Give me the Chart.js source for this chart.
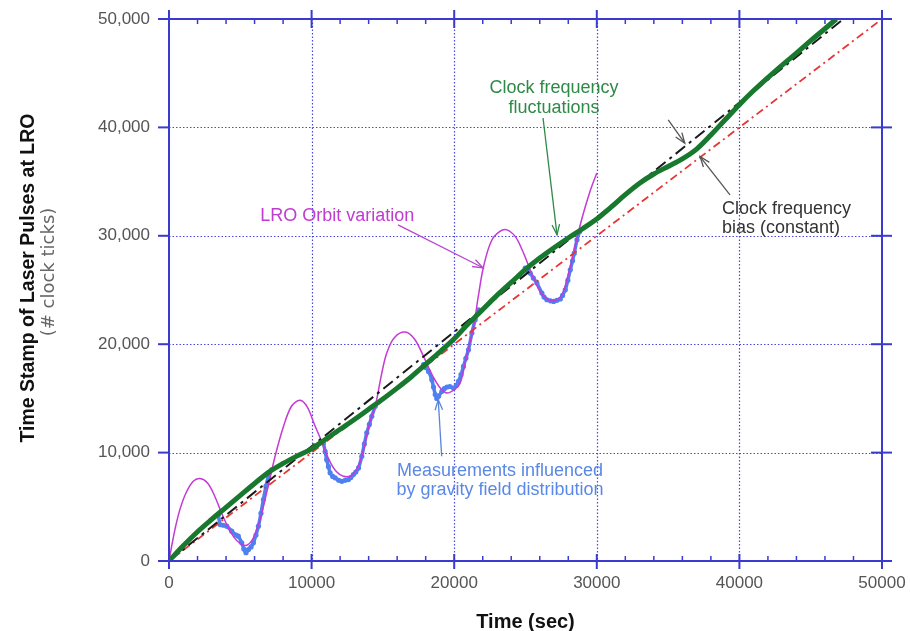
<!DOCTYPE html>
<html>
<head>
<meta charset="utf-8">
<script src="https://cdn.jsdelivr.net/npm/chart.js@4/dist/chart.umd.min.js"></script>
<style>
  body { margin: 0; background: #fff; }
  canvas { display: block; }
</style>
</head>
<body>
<canvas id="grafico" width="910" height="631"></canvas>
<script>
// tick values
const xTicks = [0, 10000, 20000, 30000, 40000, 50000];
const yTicks = [0, 10000, 20000, 30000, 40000, 50000];

// clock frequency bias (constant) - straight dash-dot lines
const biasX = [0, 47300];
const biasY = [0, 50000];
const refX = [0, 50000];
const refY = [0, 50000];

// clock frequency fluctuations (green)
const fluctX = [0, 1000, 2000, 3000, 4000, 5000, 6000, 7000, 8000, 9000, 10000, 11000, 12000, 13000, 14000, 15000,
  16000, 17000, 18000, 19000, 20000, 21000, 22000, 23000, 24000, 25000, 26000, 27000, 28000, 29000, 30000, 31000,
  32000, 33000, 34000, 35000, 36000, 37000, 38000, 39000, 40000, 41000, 42000, 43000, 44000, 45000, 46000, 46800];
const fluctY = [0, 1400, 2700, 3850, 4950, 6050, 7150, 8200, 9000, 9700, 10350, 11250, 12150, 13050, 14000, 14950,
  15950, 17000, 18150, 19300, 20500, 21900, 23200, 24500, 25700, 26900, 27950, 28900, 29800, 30650, 31550, 32650,
  33800, 34850, 35700, 36400, 37100, 38000, 39300, 40700, 42100, 43400, 44600, 45750, 46850, 48000, 49100, 50000];

// LRO orbit variation (magenta)
const orbitX = [0, 250, 500, 800, 1200, 1700, 2175, 2700, 3200, 3600, 4000, 4500, 5000, 5450, 5900, 6400, 6900, 7440,
  8000, 8600, 9190, 9700, 10200, 10700, 11200, 11700, 12230, 12800, 13300, 13700, 14100, 14460, 14900, 15270, 15800,
  16560, 17200, 17850, 18400, 19020, 19490, 20000, 20420, 20800, 21360, 21700, 22060, 22600, 23200, 23700, 24300,
  24800, 25100, 25600, 26100, 26600, 27000, 27500, 28000, 28500, 29000, 29500, 30000];
const orbitY = [0, 1800, 3400, 4900, 6300, 7350, 7600, 7200, 6000, 4700, 3500, 2300, 1600, 1450, 2100, 3900, 6600, 9660,
  12300, 14300, 14820, 14200, 12600, 11050, 9400, 8300, 7820, 7900, 8800, 10600, 12900, 14270, 17200, 19190, 20600,
  21120, 20500, 18880, 17300, 15960, 15500, 15800, 16420, 18500, 21640, 24500, 27170, 29500, 30400, 30550, 29900,
  28600, 27630, 26000, 24700, 24100, 24000, 24400, 26400, 29200, 31800, 34000, 35800];

// measurements influenced by gravity field (blue), null = gap between passes
const measX = [3460, 3580, 3800, 4050, 4400, 4700, 4860, 5100, 5250, 5400, 5570, 5750, 5920, 6100, 6270, 6450, 6620, 6800, 6970, 7200,
  9000,
  10830, 10950, 11060, 11180, 11300, 11480, 11650, 11900, 12120, 12350, 12580, 12750, 12930, 13100, 13290, 13520, 13700, 13870, 14050, 14220, 14460,
  16000,
  17850, 18000, 18200, 18430, 18550, 18670, 18780, 18900, 19140, 19300, 19490, 19700, 19950, 20150, 20300, 20480, 20650, 20820, 21000, 21240, 21470, 21710,
  23000,
  24980, 25150, 25330, 25550, 25800, 26150, 26300, 26500, 26750, 26970, 27200, 27440, 27600, 27790, 27970, 28140, 28300, 28420, 28610, 28800];
const measY = [4290, 3360, 3300, 3210, 2750, 2400, 2290, 1680, 1100, 760, 1060, 1300, 1680, 2400, 3210, 4400, 5670, 6900, 7820, 8430,
  null,
  10890, 10100, 9350, 8700, 8130, 7800, 7670, 7450, 7350, 7450, 7510, 7700, 7970, 8200, 8590, 9660, 10800, 11820, 12600, 13350, 14270,
  null,
  18110, 17850, 17490, 16730, 16050, 15350, 15000, 15190, 15650, 15900, 16050, 16100, 15960, 16200, 16570, 17200, 17950, 18700, 19490, 21030, 22260, 23180,
  null,
  27020, 26800, 26560, 26100, 25640, 24720, 24350, 24100, 24000, 23950, 24050, 24170, 24500, 25020, 25900, 26870, 27700, 28400, 29630, 30400];

const pts = (xs, ys) => xs.map((x, i) => ({ x: x, y: ys[i] }));

const FONT = '"Liberation Sans", Arial, sans-serif';
const AXIS = '#3a3ad0';

// annotations in data coordinates
const notes = [
  { lines: ['LRO Orbit variation'], x: 11800, y: [31320], color: '#c03cd0', align: 'center' },
  { lines: ['Clock frequency', 'fluctuations'], x: 27000, y: [43210, 41360], color: '#2f8a48', align: 'center' },
  { lines: ['Clock frequency', 'bias (constant)'], x: 38780, y: [32030, 30250], color: '#333333', align: 'left' },
  { lines: ['Measurements influenced', 'by gravity field distribution'], x: 23210, y: [7820, 6130], color: '#5a88e6', align: 'center' }
];
const arrows = [
  { from: [16060, 31010], to: [22020, 27050], color: '#b848cc' },
  { from: [26230, 40870], to: [27210, 30090], color: '#2f8a48' },
  { from: [35010, 40690], to: [36170, 38540], color: '#555555' },
  { from: [39340, 33780], to: [37240, 37310], color: '#555555' },
  { from: [19120, 9660], to: [18880, 14880], color: '#5a85d8' }
];

const framePlugin = {
  id: 'frame',
  beforeDatasetsDraw(chart) {
    const { ctx, chartArea: a, scales: { x, y } } = chart;
    ctx.save();
    ctx.strokeStyle = '#4848e0';
    ctx.lineWidth = 1.2;
    ctx.setLineDash([1.5, 2]);
    xTicks.slice(1, -1).forEach(v => {
      const px = Math.round(x.getPixelForValue(v)) + 0.5;
      ctx.beginPath(); ctx.moveTo(px, a.top); ctx.lineTo(px, a.bottom); ctx.stroke();
    });
    yTicks.slice(1, -1).forEach(v => {
      const py = Math.round(y.getPixelForValue(v)) + 0.5;
      ctx.beginPath(); ctx.moveTo(a.left, py); ctx.lineTo(a.right, py); ctx.stroke();
    });
    ctx.restore();
  },
  afterDatasetsDraw(chart) {
    const { ctx, chartArea: a, scales: { x, y } } = chart;
    ctx.save();
    ctx.strokeStyle = AXIS;
    ctx.lineWidth = 2;
    ctx.strokeRect(a.left, a.top, a.right - a.left, a.bottom - a.top);
    ctx.lineWidth = 1.5;
    // minor ticks on x every 2000, pointing inside
    for (let v = 2000; v < 50000; v += 2000) {
      if (v % 10000 === 0) continue;
      const px = x.getPixelForValue(v);
      ctx.beginPath(); ctx.moveTo(px, a.bottom); ctx.lineTo(px, a.bottom - 5); ctx.stroke();
      ctx.beginPath(); ctx.moveTo(px, a.top); ctx.lineTo(px, a.top + 5); ctx.stroke();
    }
    // major ticks
    ctx.lineWidth = 2;
    xTicks.forEach(v => {
      const px = x.getPixelForValue(v);
      ctx.beginPath(); ctx.moveTo(px, a.bottom - 7); ctx.lineTo(px, a.bottom + 8); ctx.stroke();
      ctx.beginPath(); ctx.moveTo(px, a.top - 9); ctx.lineTo(px, a.top + 9); ctx.stroke();
    });
    yTicks.forEach(v => {
      const py = y.getPixelForValue(v);
      ctx.beginPath(); ctx.moveTo(a.left - 11, py); ctx.lineTo(a.left, py); ctx.stroke();
      ctx.beginPath(); ctx.moveTo(a.right - 11, py); ctx.lineTo(a.right + 10, py); ctx.stroke();
    });
    ctx.restore();
  },
  afterDraw(chart) {
    const { ctx, chartArea: a, scales: { x, y } } = chart;
    ctx.save();
    // axis titles
    ctx.fillStyle = '#111';
    ctx.textAlign = 'center';
    ctx.textBaseline = 'alphabetic';
    ctx.font = 'bold 20px ' + FONT;
    ctx.fillText('Time (sec)', (a.left + a.right) / 2, 628);
    ctx.save();
    ctx.translate(34, 278);
    ctx.rotate(-Math.PI / 2);
    ctx.font = 'bold 19.5px ' + FONT;
    ctx.fillText('Time Stamp of Laser Pulses at LRO', 0, 0);
    ctx.restore();
    ctx.save();
    ctx.translate(54, 272);
    ctx.rotate(-Math.PI / 2);
    ctx.fillStyle = '#666';
    ctx.font = '18px "DejaVu Sans", sans-serif';
    ctx.fillText('(# clock ticks)', 0, 0);
    ctx.restore();

    // text notes
    ctx.font = '18px ' + FONT;
    notes.forEach(n => {
      ctx.fillStyle = n.color;
      ctx.textAlign = n.align;
      n.lines.forEach((t, i) => ctx.fillText(t, x.getPixelForValue(n.x), y.getPixelForValue(n.y[i])));
    });

    // arrows
    ctx.lineWidth = 1.3;
    arrows.forEach(ar => {
      const x1 = x.getPixelForValue(ar.from[0]), y1 = y.getPixelForValue(ar.from[1]);
      const x2 = x.getPixelForValue(ar.to[0]), y2 = y.getPixelForValue(ar.to[1]);
      const ang = Math.atan2(y2 - y1, x2 - x1);
      ctx.strokeStyle = ar.color;
      ctx.beginPath(); ctx.moveTo(x1, y1); ctx.lineTo(x2, y2); ctx.stroke();
      ctx.beginPath();
      ctx.moveTo(x2 - 11 * Math.cos(ang - 0.35), y2 - 11 * Math.sin(ang - 0.35));
      ctx.lineTo(x2, y2);
      ctx.lineTo(x2 - 11 * Math.cos(ang + 0.35), y2 - 11 * Math.sin(ang + 0.35));
      ctx.stroke();
    });
    ctx.restore();
  }
};

new Chart(document.getElementById('grafico'), {
  type: 'scatter',
  data: {
    datasets: [
      { label: 'Clock frequency fluctuations', data: pts(fluctX, fluctY), showLine: true, borderColor: '#17782e', borderWidth: 5, pointRadius: 0, cubicInterpolationMode: 'monotone' },
      { label: 'Clock frequency bias', data: pts(biasX, biasY), showLine: true, borderColor: '#1a1a1a', borderWidth: 2, borderDash: [12, 5, 3, 5], pointRadius: 0 },
      { label: 'Reference', data: pts(refX, refY), showLine: true, borderColor: '#e83535', borderWidth: 1.8, borderDash: [8, 4, 2, 4], pointRadius: 0 },
      { label: 'LRO Orbit variation', data: pts(orbitX, orbitY), showLine: true, borderColor: '#c43ad4', borderWidth: 1.5, pointRadius: 0, tension: 0.35 },
      { label: 'Measurements', data: pts(measX, measY), showLine: true, spanGaps: false, borderColor: '#4f80f0', borderWidth: 3.5, pointRadius: 2.6, pointBackgroundColor: '#4f80f0', pointBorderWidth: 0, tension: 0.2 }
    ]
  },
  options: {
    responsive: false,
    animation: false,
    layout: { autoPadding: false, padding: { top: 19, right: 28, left: 0, bottom: 0 } },
    plugins: { legend: { display: false }, tooltip: { enabled: false } },
    scales: {
      x: {
        type: 'linear', min: 0, max: 50000,
        afterBuildTicks: s => { s.ticks = xTicks.map(v => ({ value: v })); },
        afterFit: s => { s.height = 70; s.paddingLeft = 0; s.paddingRight = 0; },
        grid: { display: false },
        border: { display: false },
        ticks: { color: '#555', font: { size: 17, family: FONT }, padding: 4, maxRotation: 0, callback: v => String(v) }
      },
      y: {
        type: 'linear', min: 0, max: 50000,
        afterBuildTicks: s => { s.ticks = yTicks.map(v => ({ value: v })); },
        afterFit: s => { s.width = 169; s.paddingTop = 0; s.paddingBottom = 0; },
        grid: { display: false },
        border: { display: false },
        ticks: { color: '#555', font: { size: 17, family: FONT }, padding: 11, callback: v => v.toLocaleString('en-US') }
      }
    }
  },
  plugins: [framePlugin]
});
</script>
</body>
</html>
